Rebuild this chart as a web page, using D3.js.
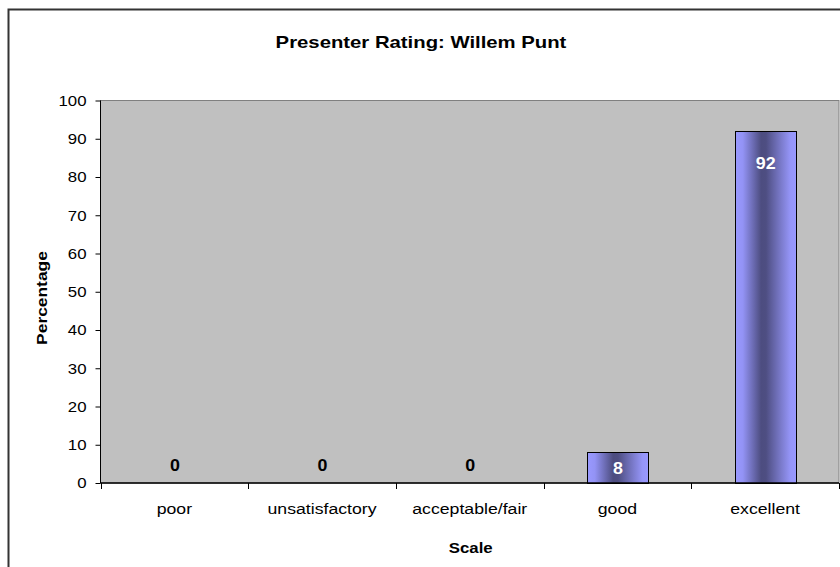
<!DOCTYPE html>
<html><head><meta charset="utf-8">
<script src="https://cdn.jsdelivr.net/npm/d3@7"></script>
<style>body{margin:0;background:#fff}svg{display:block}text{font-family:"Liberation Sans",Arial,sans-serif}</style>
</head><body><svg id="c" width="840" height="567"></svg>
<script>
const categories = ["poor","unsatisfactory","acceptable/fair","good","excellent"];
const values = [0,0,0,8,92];
const yTicks = [0,10,20,30,40,50,60,70,80,90,100];
const title = "Presenter Rating: Willem Punt";
const xTitle = "Scale", yTitle = "Percentage";

const svg = d3.select("#c");
const m = {l:100.5, t:100.5, r:839, b:483};
const x = d3.scaleBand().domain(categories).range([m.l, m.r]).paddingInner(0.59).paddingOuter(0.295);
const y = d3.scaleLinear().domain([0,100]).range([m.b, m.t]);
const FF = "Liberation Sans, Arial, sans-serif";

// outer border
svg.append("path").attr("d","M8.5,580 V9.5 H850").attr("fill","none").attr("stroke","#333").attr("stroke-width",2);

const defs = svg.append("defs");
const g = defs.append("linearGradient").attr("id","bg").attr("x1","0").attr("x2","1").attr("y1","0").attr("y2","0");
[[0,"#9999ff"],[0.12,"#9393f5"],[0.42,"#4d4d80"],[0.5,"#4e4e82"],[0.75,"#7b7bcc"],[0.9,"#9595f8"],[1,"#9999ff"]]
  .forEach(([o,c])=>g.append("stop").attr("offset",o).attr("stop-color",c));

// plot area
svg.append("rect").attr("x",m.l).attr("y",m.t).attr("width",m.r-m.l).attr("height",m.b-m.t)
  .attr("fill","#c0c0c0").attr("stroke","#808080").attr("stroke-width",1);

const data = values.map((v,i)=>({v,c:categories[i]}));

// bars
svg.selectAll(".bar").data(data.filter(d=>d.v>0)).enter().append("rect")
  .attr("x",d=>Math.round(x(d.c))+0.5).attr("y",d=>Math.round(y(d.v))+0.5)
  .attr("width",Math.round(x.bandwidth())).attr("height",d=>Math.round(y(0))-Math.round(y(d.v)))
  .attr("fill","url(#bg)").attr("stroke","#000").attr("stroke-width",1);

// y axis
const yAxis = d3.axisLeft(y).tickValues(yTicks).tickSize(5);
const ya = svg.append("g").attr("transform",`translate(${m.l},0)`).call(yAxis);
ya.selectAll("text").attr("font-size",14).attr("fill","#000").attr("font-family",FF)
  .attr("x",0).attr("dy","0.35em").attr("transform","translate(-14,0) scale(1.2,1)");
ya.selectAll("line").attr("stroke","#000");
ya.select(".domain").attr("stroke","#000").attr("d",`M0,${m.t}V${m.b}`);

// x axis
const xAxis = d3.axisBottom(x).tickSize(0).tickPadding(0);
const xa = svg.append("g").attr("transform",`translate(0,${m.b})`).call(xAxis);
xa.selectAll("text").attr("font-size",14.5).attr("fill","#000").attr("font-family",FF)
  .attr("dy",null).attr("y",0).attr("transform","translate(0,31) scale(1.22,1)");
xa.select(".domain").attr("stroke","#000").attr("stroke-width",1.5).attr("d",`M${m.l},0H${m.r}`);
const step = x.step();
const bounds = d3.range(categories.length+1).map(i=>x(categories[0]) - x.paddingOuter()*step + i*step);
xa.selectAll(".bt").data(bounds).enter().append("line")
  .attr("x1",d=>Math.round(d)+0.5).attr("x2",d=>Math.round(d)+0.5).attr("y1",0).attr("y2",6).attr("stroke","#000");

// value labels
svg.selectAll(".lbl").data(data).enter().append("text")
  .attr("transform",d=>{
    const cx = x(d.c)+x.bandwidth()/2+0.5;
    let cy;
    if(d.v===0) cy = y(0)-12.5;
    else {
      const h=y(0)-y(d.v);
      cy = h<45 ? y(d.v)+h/2+6 : y(d.v)+37.5;
    }
    return `translate(${cx},${cy}) scale(1.05,1)`;
  })
  .attr("text-anchor","middle").attr("font-size",17).attr("font-weight","bold")
  .attr("fill",d=>d.v===0?"#000":"#fff").text(d=>d.v);

// titles
svg.append("text").attr("transform","translate(421,47.5) scale(1.27,1)").attr("text-anchor","middle").attr("font-size",16)
  .attr("font-weight","bold").text(title);
svg.append("text").attr("transform",`translate(${(m.l+m.r)/2+1},553) scale(1.12,1)`).attr("text-anchor","middle").attr("font-size",15)
  .attr("font-weight","bold").text(xTitle);
svg.append("text").attr("transform",`translate(46.5,298) rotate(-90) scale(1.16,1)`).attr("text-anchor","middle").attr("font-size",15)
  .attr("font-weight","bold").text(yTitle);
</script></body></html>
